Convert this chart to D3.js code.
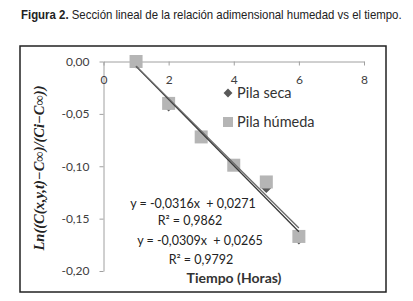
<!DOCTYPE html>
<html>
<head>
<meta charset="utf-8">
<script src="https://cdn.jsdelivr.net/npm/d3@7"></script>
<style>
  body { margin: 0; background: #fff; }
</style>
</head>
<body>
<div id="chart"></div>
<script>
// data
const hours = [1, 2, 3, 4, 5, 6];
const pilaSeca = [-0.002, -0.043, -0.073, -0.098, -0.121, -0.170];
const pilaHumeda = [0.000, -0.040, -0.072, -0.099, -0.115, -0.167];
const xTicks = [0, 2, 4, 6, 8];
const yTicks = [0, -0.05, -0.10, -0.15, -0.20];
const seriesNames = ["Pila seca", "Pila húmeda"];
const trendSlopes = [-0.0316, -0.0309];
const trendIntercepts = [0.0271, 0.0265];
const trendR2 = [0.9862, 0.9792];

const width = 413, height = 301;
const svg = d3.select("#chart").append("svg")
  .attr("width", width)
  .attr("height", height)
  .style("font-family", "Lato, 'Open Sans', sans-serif");

svg.append("rect").attr("width", width).attr("height", height).attr("fill", "#fff");

// title, squeezed horizontally like the narrow font of the original
const title = svg.append("text")
  .attr("x", 0)
  .attr("y", 0)
  .attr("font-family", "'Liberation Sans', Arial, sans-serif")
  .attr("font-size", 12)
  .attr("fill", "#222");
title.append("tspan").attr("font-weight", "bold").text("Figura 2.");
title.append("tspan").text(" Sección lineal de la relación adimensional humedad vs el tiempo.");
const titleW = title.node().getComputedTextLength();
title.attr("transform", `translate(21,19) scale(${381 / titleW},1)`);

// chart frame
svg.append("rect")
  .attr("x", 20)
  .attr("y", 46)
  .attr("width", 366)
  .attr("height", 246)
  .attr("fill", "none")
  .attr("stroke", "#222")
  .attr("stroke-width", 1.5);

const x = d3.scaleLinear().domain([0, 8]).range([103.5, 364]);
const y = d3.scaleLinear().domain([-0.2, 0]).range([271, 61.5]);

const fmt = d => d3.format(".2f")(d).replace(".", ",").replace("−", "-");

// y axis
const gy = svg.append("g")
  .attr("transform", `translate(${x(0)},0)`)
  .call(d3.axisLeft(y).tickValues(yTicks).tickSize(4).tickSizeOuter(0).tickPadding(10).tickFormat(fmt));

// x axis sits at y = 0
const gx = svg.append("g")
  .attr("transform", `translate(0,${y(0)})`)
  .call(d3.axisBottom(x).tickValues(xTicks).tickSize(4).tickSizeOuter(0).tickPadding(10).tickFormat(d3.format("d")));

[gx, gy].forEach(g => {
  g.select(".domain").attr("stroke", "#a0a0a0");
  g.selectAll(".tick line").attr("stroke", "#a0a0a0");
  g.selectAll(".tick text")
    .attr("font-family", "Lato, sans-serif")
    .attr("font-size", 12)
    .attr("fill", "#404040");
});

// axis titles
svg.append("text")
  .attr("transform", `translate(44,168) rotate(-90)`)
  .attr("text-anchor", "middle")
  .attr("font-family", "'Liberation Serif', 'DejaVu Serif', serif")
  .attr("font-style", "italic")
  .attr("font-weight", "bold")
  .attr("font-size", 14.5)
  .attr("fill", "#222")
  .text("Ln((C(x,y,t)−C∞)/(Ci−C∞))");

svg.append("text")
  .attr("x", 234)
  .attr("y", 283)
  .attr("text-anchor", "middle")
  .attr("font-weight", "bold")
  .attr("font-size", 14)
  .attr("fill", "#333")
  .text("Tiempo (Horas)");

// markers: diamonds below, squares on top
const diamond = d3.symbol().type(d3.symbolDiamond2 || d3.symbolDiamond).size(60);
svg.append("g").selectAll("path")
  .data(hours)
  .join("path")
  .attr("d", diamond)
  .attr("transform", (d, i) => `translate(${x(d)},${y(pilaSeca[i])})`)
  .attr("fill", "#595959");

svg.append("g").selectAll("rect")
  .data(hours)
  .join("rect")
  .attr("x", d => x(d) - 6.5)
  .attr("y", (d, i) => y(pilaHumeda[i]) - 6.5)
  .attr("width", 13)
  .attr("height", 13)
  .attr("fill", "#b5b5b5");

// linear trend lines from first to last hour
const xr = d3.extent(hours);
const trendColors = ["#3a3a3a", "#6a6a6a"];
trendSlopes.forEach((m, k) => {
  svg.append("line")
    .attr("x1", x(xr[0]))
    .attr("y1", y(m * xr[0] + trendIntercepts[k]))
    .attr("x2", x(xr[1]))
    .attr("y2", y(m * xr[1] + trendIntercepts[k]))
    .attr("stroke", trendColors[k])
    .attr("stroke-width", 1.3);
});

// trend equations
const eqFmt = v => d3.format(".4f")(Math.abs(v)).replace(".", ",");
const eqPos = [[193, 208, 190, 225], [200, 245, 201, 264]];
trendSlopes.forEach((m, k) => {
  svg.append("text")
    .attr("x", eqPos[k][0]).attr("y", eqPos[k][1])
    .attr("text-anchor", "middle")
    .attr("font-size", 12.5)
    .attr("fill", "#222")
    .style("white-space", "pre")
    .text(`y = -${eqFmt(m)}x  + ${eqFmt(trendIntercepts[k])}`);
  svg.append("text")
    .attr("x", eqPos[k][2]).attr("y", eqPos[k][3])
    .attr("text-anchor", "middle")
    .attr("font-size", 12.5)
    .attr("fill", "#222")
    .text(`R² = ${eqFmt(trendR2[k])}`);
});

// legend
const legend = svg.append("g").attr("transform", "translate(228,93)");
legend.append("path")
  .attr("d", d3.symbol().type(d3.symbolDiamond2 || d3.symbolDiamond).size(50))
  .attr("fill", "#595959");
legend.append("rect")
  .attr("x", -5).attr("y", 24).attr("width", 10).attr("height", 10)
  .attr("fill", "#b5b5b5");
legend.selectAll("text")
  .data(seriesNames)
  .join("text")
  .attr("x", 9)
  .attr("y", (d, i) => 5 + i * 29)
  .attr("font-size", 14.5)
  .attr("fill", "#333")
  .text(d => d);
</script>
</body>
</html>
